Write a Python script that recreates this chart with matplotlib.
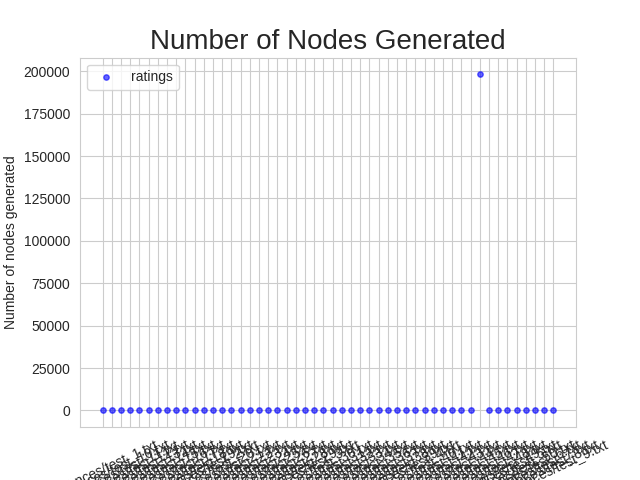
import matplotlib
matplotlib.use("Agg")
import matplotlib.pyplot as plt
import seaborn as sns

sns.set_style("whitegrid")
plt.rcParams["font.family"] = ["Liberation Sans", "DejaVu Sans"]

# file names, sorted the way the directory listing gives them
numbers = ["1"] + [str(n) for n in range(10, 20)] + ["2"] + [str(n) for n in range(20, 30)] \
    + ["3"] + [str(n) for n in range(30, 40)] + ["4"] + [str(n) for n in range(40, 50)] \
    + ["5", "50", "6", "7", "8", "9"]
files = ["instances/test_" + n + ".txt" for n in numbers]

# nodes generated per instance (all tiny except test_47)
nodes = [14, 52, 88, 31, 120, 47, 63, 95, 210, 38,
         76, 9, 143, 58, 27, 190, 66, 312, 84, 41,
         105, 73, 11, 160, 92, 55, 248, 37, 130, 81,
         69, 175, 44, 18, 99, 61, 137, 86, 222, 50,
         118, 198200, 77, 154, 6, 290, 21, 16, 25, 33]

fig, ax = plt.subplots(figsize=(6.4, 4.8), dpi=100)
ax.scatter(files, nodes, color="blue", alpha=0.6, s=15, label="ratings")
ax.set_title("Number of Nodes Generated", fontsize=20)
ax.set_ylabel("Number of nodes generated")
ax.legend(loc="upper left")
plt.xticks(rotation=25)

fig.savefig("out.png")
